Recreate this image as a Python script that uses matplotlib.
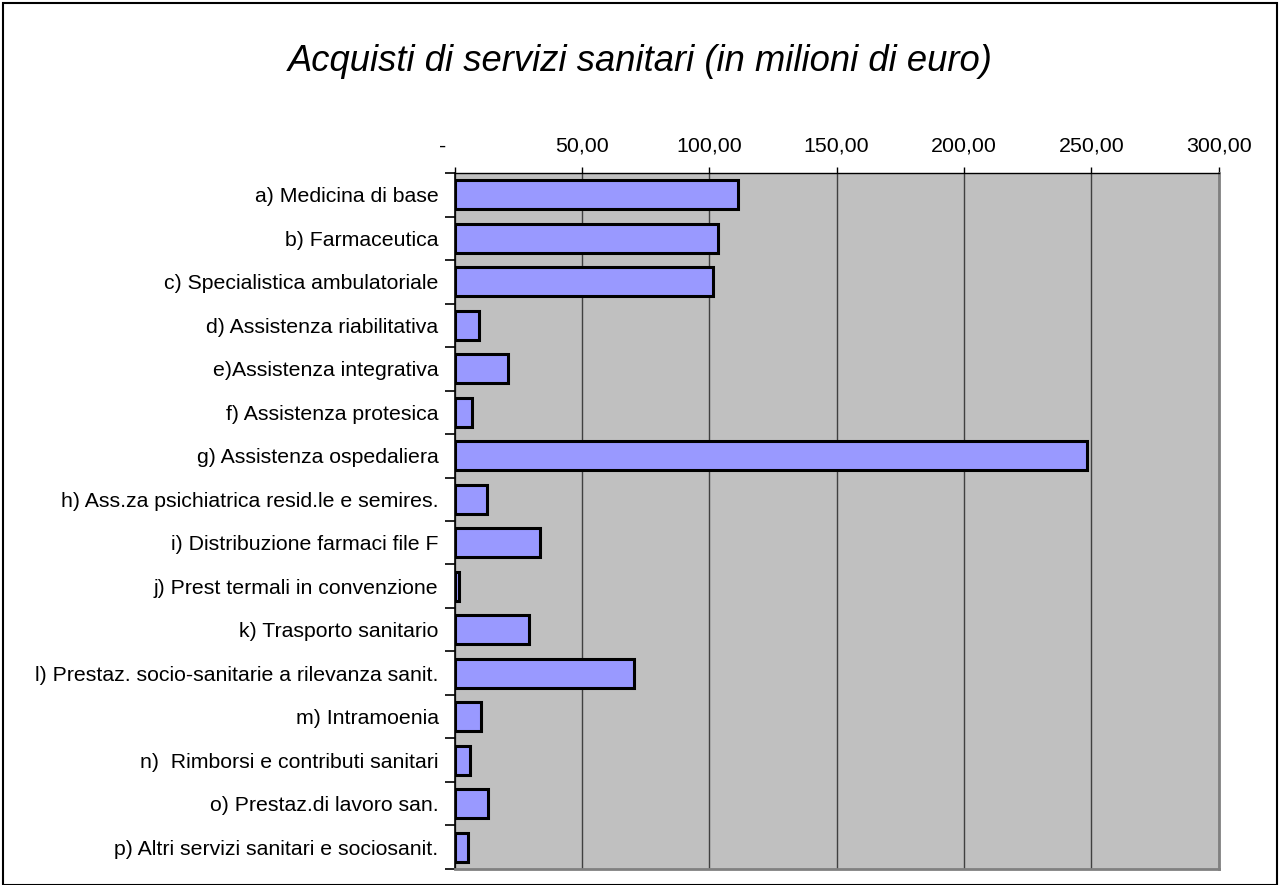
import matplotlib
matplotlib.use("Agg")
import matplotlib.pyplot as plt
from matplotlib.patches import Rectangle
from matplotlib.ticker import FixedLocator
import matplotlib.transforms as mtransforms

categories = [
    "a) Medicina di base",
    "b) Farmaceutica",
    "c) Specialistica ambulatoriale",
    "d) Assistenza riabilitativa",
    "e)Assistenza integrativa",
    "f) Assistenza protesica",
    "g) Assistenza ospedaliera",
    "h) Ass.za psichiatrica resid.le e semires.",
    "i) Distribuzione farmaci file F",
    "j) Prest termali in convenzione",
    "k) Trasporto sanitario",
    "l) Prestaz. socio-sanitarie a rilevanza sanit.",
    "m) Intramoenia",
    "n)  Rimborsi e contributi sanitari",
    "o) Prestaz.di lavoro san.",
    "p) Altri servizi sanitari e sociosanit.",
]
values = [111.1, 103.6, 101.3, 9.8, 20.9, 7.0, 248.4, 12.8, 33.5, 1.9,
          29.2, 70.4, 10.4, 6.2, 13.3, 5.3]
xticks = [0, 50, 100, 150, 200, 250, 300]
xticklabels = ["-", "50,00", "100,00", "150,00", "200,00", "250,00", "300,00"]
title = "Acquisti di servizi sanitari (in milioni di euro)"

plt.rcParams["font.family"] = ["Liberation Sans", "DejaVu Sans"]

fig = plt.figure(figsize=(12.8, 8.85), dpi=100)
ax = fig.add_axes([0.3551, 0.0181, 0.597, 0.7864])
ax.set_facecolor("#C0C0C0")

n = len(categories)
ypos = list(range(n))
ax.barh(ypos, values, height=0.66, color="#9999FF", edgecolor="black",
        linewidth=2.2, zorder=3)
ax.set_ylim(n - 0.5, -0.5)
ax.set_xlim(0, 300)

ax.xaxis.tick_top()
ax.set_xticks(xticks)
ax.set_xticklabels(xticklabels, fontsize=15.4)
ax.tick_params(axis="x", length=4, width=1, pad=8.5, color="black")
ax.grid(axis="x", color="#404040", linewidth=1, zorder=1)
first = ax.get_xticklabels()[0]
first.set_transform(first.get_transform() +
                    mtransforms.ScaledTranslation(-0.12, 0, fig.dpi_scale_trans))

ax.set_yticks(ypos)
ax.set_yticklabels(categories, fontsize=15.3)
ax.yaxis.set_minor_locator(FixedLocator([i - 0.5 for i in range(n + 1)]))
ax.tick_params(axis="y", which="major", length=0, pad=11.5)
ax.tick_params(axis="y", which="minor", length=7, width=1.2, color="black")

ax.spines["left"].set_color("black")
ax.spines["left"].set_linewidth(1.2)
ax.spines["top"].set_color("black")
ax.spines["top"].set_linewidth(1)
ax.spines["right"].set_color("#808080")
ax.spines["right"].set_linewidth(2)
ax.spines["bottom"].set_color("#808080")
ax.spines["bottom"].set_linewidth(2)

fig.text(0.5, 0.930, title, ha="center", va="center", fontsize=26.2,
         style="italic")

fig.patches.append(Rectangle((0.0025, 0.0), 0.995, 0.9965, transform=fig.transFigure,
                             fill=False, edgecolor="black", linewidth=1.5))

fig.savefig("out.png", dpi=100)
